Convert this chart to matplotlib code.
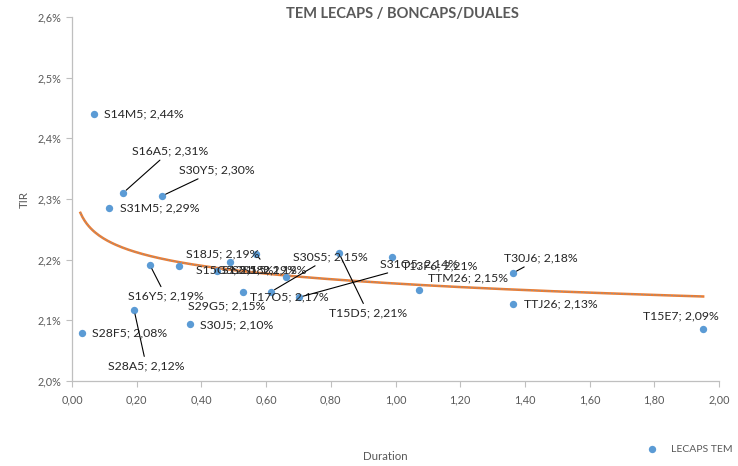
import numpy as np
import matplotlib
matplotlib.use("Agg")
import matplotlib.pyplot as plt
from matplotlib.ticker import FuncFormatter

plt.rcParams['font.family'] = ['Lato', 'DejaVu Sans']

# ---- data ----
names = ["S14M5", "S16A5", "S30Y5", "S31M5", "S16Y5", "S31L5", "S12S5", "S18J5",
         "S15G5", "S29G5", "S30S5", "T17O5", "S31O5", "T15D5", "T13F6", "TTM26",
         "T30J6", "TTJ26", "T15E7", "S28F5", "S28A5", "S30J5"]
duration = [0.068, 0.158, 0.278, 0.114, 0.241, 0.331, 0.488, 0.569,
            0.448, 0.529, 0.615, 0.662, 0.702, 0.825, 0.989, 1.073,
            1.363, 1.363, 1.951, 0.031, 0.192, 0.365]
tir = [2.44, 2.31, 2.305, 2.285, 2.191, 2.19, 2.196, 2.209,
       2.181, 2.147, 2.147, 2.171, 2.138, 2.211, 2.204, 2.15,
       2.178, 2.127, 2.086, 2.079, 2.117, 2.094]
label_values = ["2,44%", "2,31%", "2,30%", "2,29%", "2,19%", "2,19%", "2,19%", "2,19%",
                "2,18%", "2,15%", "2,15%", "2,17%", "2,14%", "2,21%", "2,21%", "2,15%",
                "2,18%", "2,13%", "2,09%", "2,08%", "2,12%", "2,10%"]
x_ticks = [0.0, 0.2, 0.4, 0.6, 0.8, 1.0, 1.2, 1.4, 1.6, 1.8, 2.0]
y_ticks = [2.0, 2.1, 2.2, 2.3, 2.4, 2.5, 2.6]

# ---- label layout (offset pixels, left edge / vertical centre), leader flag ----
offsets = [(10, 0), (9, 42), (17, 26), (11, 0), (-22, -31), (53, -4), (-8, -8), (-70, 0),
           (-21, 1), (-55, -14), (22, 35), (-36, -20), (81, 33), (-10, -60), (10, -9), (9, 12),
           (-9, 15), (11, 0), (-60, 13), (10, 0), (-26, -56), (10, -1)]
leaders = [False, True, True, False, True, False, False, False,
           False, False, True, False, True, True, False, False,
           True, False, False, False, True, False]

fig = plt.figure(figsize=(7.38, 4.66), dpi=100)
ax = fig.add_axes([72/738, 1-381/466, (719-72)/738, (381-17)/466])

blue = "#5B9BD5"
orange = "#ED7D31"
grey = "#595959"

ax.scatter(duration, tir, s=28, color=blue, zorder=3, label="LECAPS TEM", linewidths=0)

# logarithmic trend line fitted to the data
d = np.array(duration)
t = np.array(tir)
b, a = np.polyfit(np.log(d), t, 1)
xs = np.linspace(d.min() - 0.005, d.max(), 300)
ys = a + b * np.log(xs)
ax.plot(xs, ys, color=orange, lw=1.8, zorder=2)
ax.plot(xs, ys, color=blue, lw=0.8, ls=(0, (1, 2)), zorder=2, alpha=0.8)

for n, x, y, v, off, ld in zip(names, duration, tir, label_values, offsets, leaders):
    ax.annotate(f"{n}; {v}", xy=(x, y), xytext=off, textcoords="offset pixels",
                ha="left", va="center", fontsize=8.8, color="#262626", zorder=4,
                arrowprops=dict(arrowstyle="-", color="black", lw=0.8,
                                shrinkA=1, shrinkB=3) if ld else None)

# short leader of S18J5 label (drawn from its point)
i = names.index("S18J5")
ax.annotate("", xy=(duration[i], tir[i]), xytext=(4, -5), textcoords="offset pixels",
            arrowprops=dict(arrowstyle="-", color="black", lw=0.8, shrinkA=0, shrinkB=3))

ax.set_xlim(0, 2.0)
ax.set_ylim(2.0, 2.6)
ax.set_xticks(x_ticks)
ax.set_yticks(y_ticks)
ax.xaxis.set_major_formatter(FuncFormatter(lambda v, p: f"{v:.2f}".replace(".", ",")))
ax.yaxis.set_major_formatter(FuncFormatter(lambda v, p: f"{v:.1f}%".replace(".", ",")))
for s in ["top", "right"]:
    ax.spines[s].set_visible(False)
for s in ["left", "bottom"]:
    ax.spines[s].set_color("#BFBFBF")
    ax.spines[s].set_linewidth(0.9)
ax.tick_params(axis="both", colors="#BFBFBF", labelcolor=grey, labelsize=7.8, length=4, width=0.8)
ax.tick_params(axis="x", pad=6)

ax.set_xlabel("Duration", fontsize=8.3, color=grey)
ax.set_ylabel("TIR", fontsize=8.3, color=grey)
ax.yaxis.set_label_coords(-0.065, 0.5)
ax.xaxis.set_label_coords((385-72)/647, -(451-381)/364)

fig.text(402/738, 1-14/466, "TEM LECAPS / BONCAPS/DUALES", ha="center", va="center",
         fontsize=10.5, fontweight="bold", color=grey)

fig.legend(loc="center left", bbox_to_anchor=(646/738, 1-449/466), frameon=False,
           fontsize=7.5, labelcolor=grey, handletextpad=1.2, handlelength=1.2,
           borderpad=0, borderaxespad=0)

fig.savefig("out.png", dpi=100)
